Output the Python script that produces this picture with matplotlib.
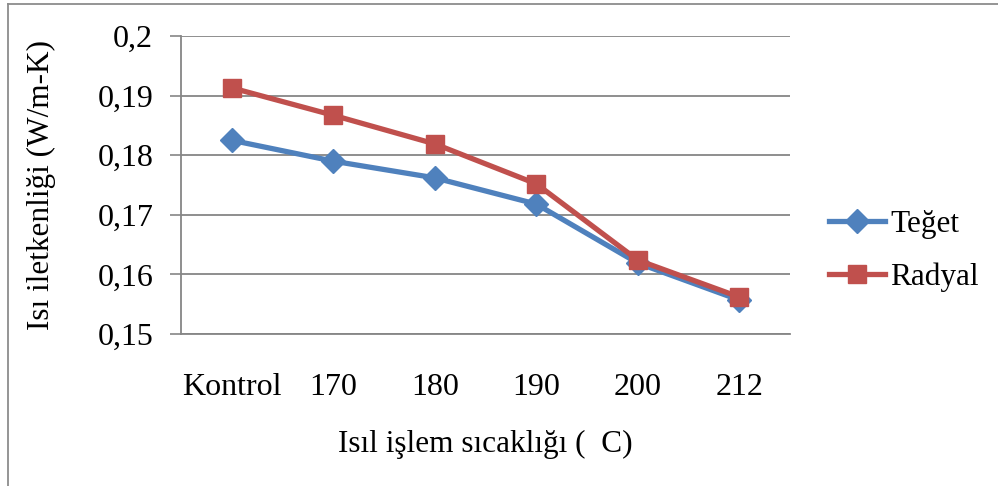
import matplotlib.pyplot as plt
from matplotlib.lines import Line2D
from matplotlib.ticker import FuncFormatter

plt.rcParams['font.family'] = ['Liberation Serif', 'DejaVu Serif']

# Thermal conductivity by heat treatment temperature
categories = ['Kontrol', '170', '180', '190', '200', '212']
teget = [0.1825, 0.1790, 0.1762, 0.1718, 0.1619, 0.1557]
radyal = [0.1913, 0.1867, 0.1819, 0.1752, 0.1624, 0.1562]
yticks = [0.15, 0.16, 0.17, 0.18, 0.19, 0.20]

blue = '#4F81BD'
red = '#C0504D'
grid = '#868686'
fs = 23

fig = plt.figure(figsize=(9.98, 4.86), dpi=100)
ax = fig.add_axes([181 / 998, 1 - 334 / 486, 609 / 998, 298 / 486])

x = range(len(categories))
ax.plot(x, teget, color=blue, lw=3.8, marker='D', ms=12, label='Teğet')
ax.plot(x, radyal, color=red, lw=3.8, marker='s', ms=13.5, label='Radyal')

ax.set_xlim(-0.5, len(categories) - 0.5)
ax.set_ylim(0.15, 0.20)
ax.set_yticks(yticks)
ax.yaxis.set_major_formatter(FuncFormatter(lambda v, p: ('%g' % round(v, 2)).replace('.', ',')))
ax.set_xticks(list(x))
ax.set_xticklabels(categories)
ax.tick_params(axis='x', length=0, pad=28, labelsize=fs)
ax.tick_params(axis='y', length=8, width=1.2, color=grid, pad=12, labelsize=fs)
ax.yaxis.grid(True, color=grid, lw=1.3)
ax.set_axisbelow(True)

for s in ['top', 'right']:
    ax.spines[s].set_visible(False)
for s in ['left', 'bottom']:
    ax.spines[s].set_color(grid)
    ax.spines[s].set_linewidth(1.3)

ax.set_ylabel('Isı iletkenliği (W/m-K)', fontsize=22.5, labelpad=30)
ax.set_xlabel('Isıl işlem sıcaklığı (  C)', fontsize=22.5, labelpad=20)

ax.legend(loc='center left', bbox_to_anchor=(1.064, 0.28), frameon=False,
          fontsize=22.5, handlelength=1.8, handletextpad=0.15, labelspacing=0.75,
          borderaxespad=0, borderpad=0)

# chart area border (left and top edges)
fig.add_artist(Line2D([8 / 998, 8 / 998], [0, 1 - 4 / 486], transform=fig.transFigure,
                      color='#8c8c8c', lw=1.3))
fig.add_artist(Line2D([8 / 998, 1], [1 - 4 / 486, 1 - 4 / 486], transform=fig.transFigure,
                      color='#8c8c8c', lw=1.3))

fig.savefig('out.png', dpi=100)
